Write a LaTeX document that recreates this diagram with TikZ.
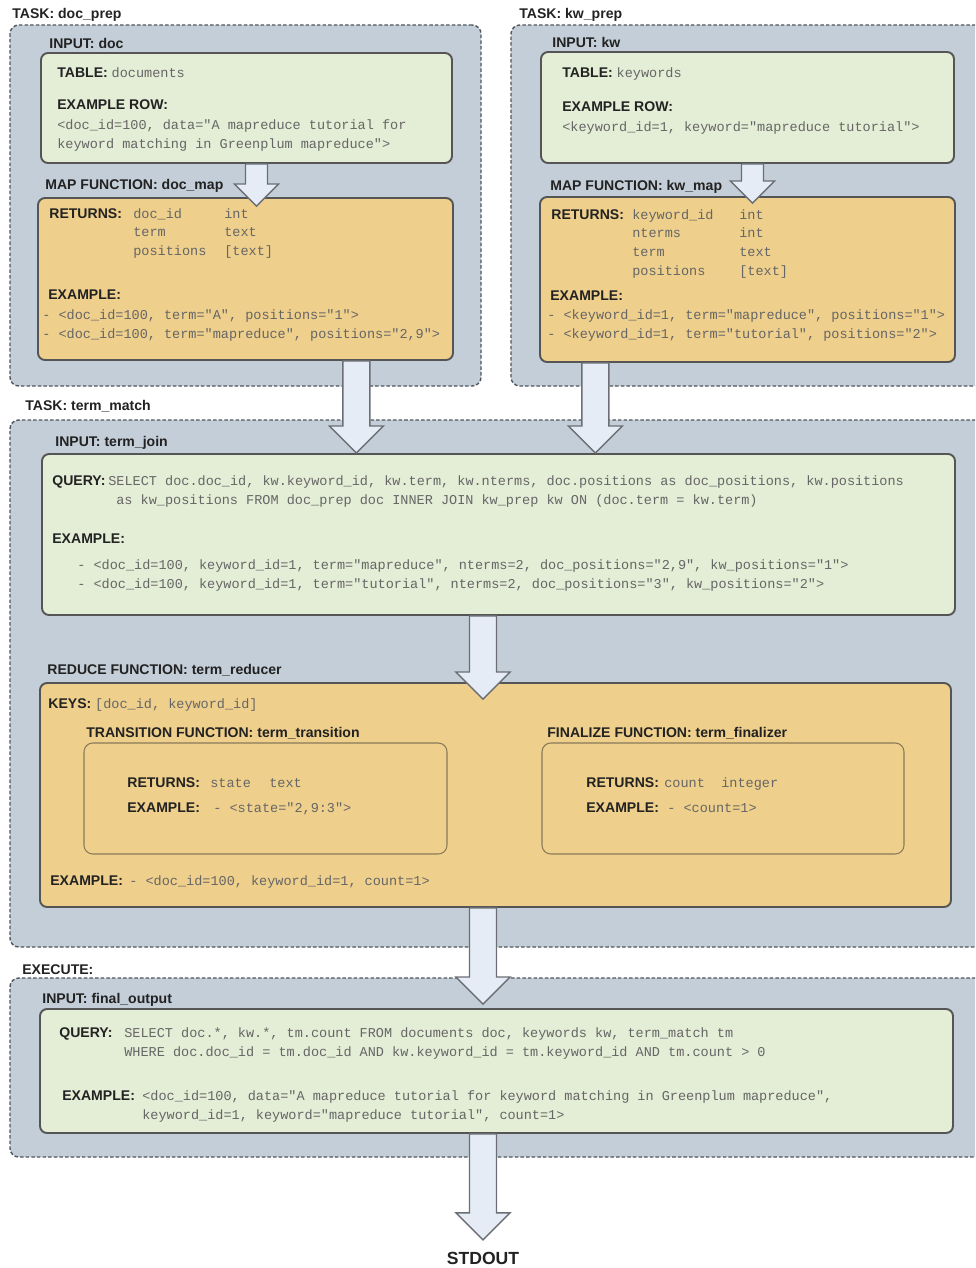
\documentclass[tikz,border=0pt]{standalone}
\usepackage{fontspec}
\setmainfont{Liberation Sans}
\setmonofont{Liberation Mono}
\usetikzlibrary{calc, fit, positioning}

\definecolor{taskfill}{HTML}{C4CED8}
\definecolor{taskline}{HTML}{4F555C}
\definecolor{inputfill}{HTML}{E4EDD6}
\definecolor{mapfill}{HTML}{EECF8C}
\definecolor{boxline}{HTML}{555555}
\definecolor{subline}{HTML}{8A7A5A}
\definecolor{arrowfill}{HTML}{E6ECF5}
\definecolor{arrowline}{HTML}{6B6F75}
\definecolor{codegray}{HTML}{666666}
\definecolor{labelcol}{HTML}{222222}

\newcommand{\codetxt}[1]{{\ttfamily\mdseries\fontsize{7.7}{9}\selectfont\color{codegray}#1}}

% block arrow: [shaft half width]{start}{tip}, tip straight below start
\newcommand{\flowarrow}[3][13]{%
  \path #2 coordinate (fa-s) #3 coordinate (fa-t);
  \draw[flowarr] ($(fa-s)+(-#1,0)$) -- ($(fa-s |- fa-t)+(-#1,-2*#1)$)
    -- ($(fa-s |- fa-t)+(-2*#1,-2*#1)$) -- (fa-s |- fa-t)
    -- ($(fa-s |- fa-t)+(2*#1,-2*#1)$) -- ($(fa-s |- fa-t)+(#1,-2*#1)$)
    -- ($(fa-s)+(#1,0)$) -- cycle;
}

\begin{document}
\begin{tikzpicture}[x=0.02cm, y=-0.02cm,
    task/.style={draw=taskline, fill=taskfill, line width=0.8pt, dash pattern=on 2pt off 1.2pt, rounded corners=5pt, inner sep=0pt},
    inbox/.style={draw=boxline, fill=inputfill, line width=1.1pt, rounded corners=4pt, inner sep=0pt},
    fnbox/.style={draw=boxline, fill=mapfill, line width=1.1pt, rounded corners=4pt, inner sep=0pt},
    subfn/.style={draw=subline, fill=mapfill, line width=0.6pt, rounded corners=5pt, inner sep=0pt},
    hd/.style={anchor=base west, inner sep=0pt, font=\fontsize{8}{9.6}\selectfont\bfseries, text=labelcol},
    code/.style={anchor=base west, inner sep=0pt, font=\fontsize{7.7}{9}\selectfont\ttfamily, text=codegray},
    flowarr/.style={fill=arrowfill, draw=arrowline, line width=0.8pt, line join=miter}
]
\clip (0,0) rectangle (975,1268);

% task frames
\node[task, fit={(10,25) (481,386)}] (docprep) {};
\node[task, fit={(511,25) (990,386)}] (kwprep) {};
\node[task, fit={(10,420) (990,947)}] (termmatch) {};
\node[task, fit={(10,978) (990,1157)}] (execute) {};

% boxes
\node[inbox, fit={(41,53) (452,163)}] (docin) {};
\node[fnbox, fit={(38,198) (453,360)}] (docmap) {};
\node[inbox, fit={(541,52) (954,163)}] (kwin) {};
\node[fnbox, fit={(540,197) (955,362)}] (kwmap) {};
\node[inbox, fit={(42,454) (955,615)}] (termjoin) {};
\node[fnbox, fit={(40,683) (951,907)}] (reducer) {};
\node[subfn, fit={(84,743) (447,854)}] (transfn) {};
\node[subfn, fit={(542,743) (904,854)}] (finalfn) {};
\node[inbox, fit={(40,1009) (953,1133)}] (finalout) {};

% doc_prep
\node[hd] (docprep-t) at (12,18) {TASK: doc\_prep};
\node[hd] (docin-t) at (49,48) {INPUT: doc};
\node[hd] (docin-tab) at (57,77) {TABLE: \codetxt{documents}};
\node[hd] (docin-ex) at (57,109) {EXAMPLE ROW:};
\node[code] (docin-r1) at (57,129) {<doc\_id=100, data="A mapreduce tutorial for};
\node[code] (docin-r2) at (57,148) {keyword matching in Greenplum mapreduce">};
\node[hd] (docmap-t) at (45,189) {MAP FUNCTION: doc\_map};
\node[hd] (docmap-ret) at (49,218) {RETURNS:};
\foreach \fld/\typ [count=\i] in {doc\_id/int, term/text, positions/{[text]}} {
    \node[code] (docmap-f\i) at (133,199.5+18.5*\i) {\fld};
    \node[code] (docmap-y\i) at (224,199.5+18.5*\i) {\typ};
}
\node[hd] (docmap-ex) at (48,299) {EXAMPLE:};
\node[code] (docmap-e1) at (42,319) {- <doc\_id=100, term="A", positions="1">};
\node[code] (docmap-e2) at (42,338) {- <doc\_id=100, term="mapreduce", positions="2,9">};

% kw_prep
\node[hd] (kwprep-t) at (519,18) {TASK: kw\_prep};
\node[hd] (kwin-t) at (552,47) {INPUT: kw};
\node[hd] (kwin-tab) at (562,77) {TABLE: \codetxt{keywords}};
\node[hd] (kwin-ex) at (562,111) {EXAMPLE ROW:};
\node[code] (kwin-r1) at (562,131) {<keyword\_id=1, keyword="mapreduce tutorial">};
\node[hd] (kwmap-t) at (550,190) {MAP FUNCTION: kw\_map};
\node[hd] (kwmap-ret) at (551,219) {RETURNS:};
\foreach \fld/\typ [count=\i] in {keyword\_id/int, nterms/int, term/text, positions/{[text]}} {
    \node[code] (kwmap-f\i) at (632,200.3+18.7*\i) {\fld};
    \node[code] (kwmap-y\i) at (739,200.3+18.7*\i) {\typ};
}
\node[hd] (kwmap-ex) at (550,300) {EXAMPLE:};
\node[code] (kwmap-e1) at (547,319) {- <keyword\_id=1, term="mapreduce", positions="1">};
\node[code] (kwmap-e2) at (547,338) {- <keyword\_id=1, term="tutorial", positions="2">};

% term_match
\node[hd] (termmatch-t) at (25,410) {TASK: term\_match};
\node[hd] (termjoin-t) at (55,446) {INPUT: term\_join};
\node[hd] (termjoin-q) at (52,485) {QUERY:};
\node[code] (termjoin-q1) at (108,485) {SELECT doc.doc\_id, kw.keyword\_id, kw.term, kw.nterms, doc.positions as doc\_positions, kw.positions};
\node[code] (termjoin-q2) at (116,504) {as kw\_positions FROM doc\_prep doc INNER JOIN kw\_prep kw ON (doc.term = kw.term)};
\node[hd] (termjoin-ex) at (52,543) {EXAMPLE:};
\node[code] (termjoin-e1) at (77,569) {- <doc\_id=100, keyword\_id=1, term="mapreduce", nterms=2, doc\_positions="2,9", kw\_positions="1">};
\node[code] (termjoin-e2) at (77,588) {- <doc\_id=100, keyword\_id=1, term="tutorial", nterms=2, doc\_positions="3", kw\_positions="2">};

\node[hd] (reducer-t) at (47,674) {REDUCE FUNCTION: term\_reducer};
\node[hd] (reducer-keys) at (48,708) {KEYS: \codetxt{[doc\_id, keyword\_id]}};
\node[hd] (transfn-t) at (86,737) {TRANSITION FUNCTION: term\_transition};
\node[hd] (transfn-ret) at (127,787) {RETURNS:};
\node[code] (transfn-f) at (210,787) {state};
\node[code] (transfn-y) at (269,787) {text};
\node[hd] (transfn-ex) at (127,812) {EXAMPLE:};
\node[code] (transfn-e) at (213,812) {- <state="2,9:3">};
\node[hd] (finalfn-t) at (547,737) {FINALIZE FUNCTION: term\_finalizer};
\node[hd] (finalfn-ret) at (586,787) {RETURNS:};
\node[code] (finalfn-f) at (664,787) {count};
\node[code] (finalfn-y) at (721,787) {integer};
\node[hd] (finalfn-ex) at (586,812) {EXAMPLE:};
\node[code] (finalfn-e) at (667,812) {- <count=1>};
\node[hd] (reducer-ex) at (50,885) {EXAMPLE:};
\node[code] (reducer-e) at (129,885) {- <doc\_id=100, keyword\_id=1, count=1>};

% execute
\node[hd] (execute-t) at (22,974) {EXECUTE:};
\node[hd] (finalout-t) at (42,1003) {INPUT: final\_output};
\node[hd] (finalout-q) at (59,1037) {QUERY:};
\node[code] (finalout-q1) at (124,1037) {SELECT doc.*, kw.*, tm.count FROM documents doc, keywords kw, term\_match tm};
\node[code] (finalout-q2) at (124,1056) {WHERE doc.doc\_id = tm.doc\_id AND kw.keyword\_id = tm.keyword\_id AND tm.count > 0};
\node[hd] (finalout-ex) at (62,1100) {EXAMPLE:};
\node[code] (finalout-e1) at (142,1100) {<doc\_id=100, data="A mapreduce tutorial for keyword matching in Greenplum mapreduce",};
\node[code] (finalout-e2) at (142,1119) {keyword\_id=1, keyword="mapreduce tutorial", count=1>};

\node[font=\fontsize{10}{12}\selectfont\bfseries, text=labelcol, inner sep=2pt] (stdout) at (483,1258) {STDOUT};

% flow arrows
\flowarrow[11]{($(docin.south)+(10,0)$)}{($(docmap.north)+(0,9)$)}
\flowarrow[11]{($(kwin.south)+(5,0)$)}{($(kwmap.north)+(0,7)$)}
\flowarrow[13.5]{($(docmap.south west)!0.766!(docmap.south east)$)}{(termjoin.north)}
\flowarrow[13.5]{($(kwmap.south west)!0.135!(kwmap.south east)$)}{(termjoin.north)}
\flowarrow[13.5]{(termjoin.south -| stdout)}{($(reducer.north -| stdout)+(0,17)$)}
\flowarrow[13.5]{(reducer.south -| stdout)}{($(finalout.north -| stdout)+(0,-4)$)}
\flowarrow[13.5]{(finalout.south -| stdout)}{($(stdout.north)+(0,-8)$)}
\end{tikzpicture}
\end{document}
